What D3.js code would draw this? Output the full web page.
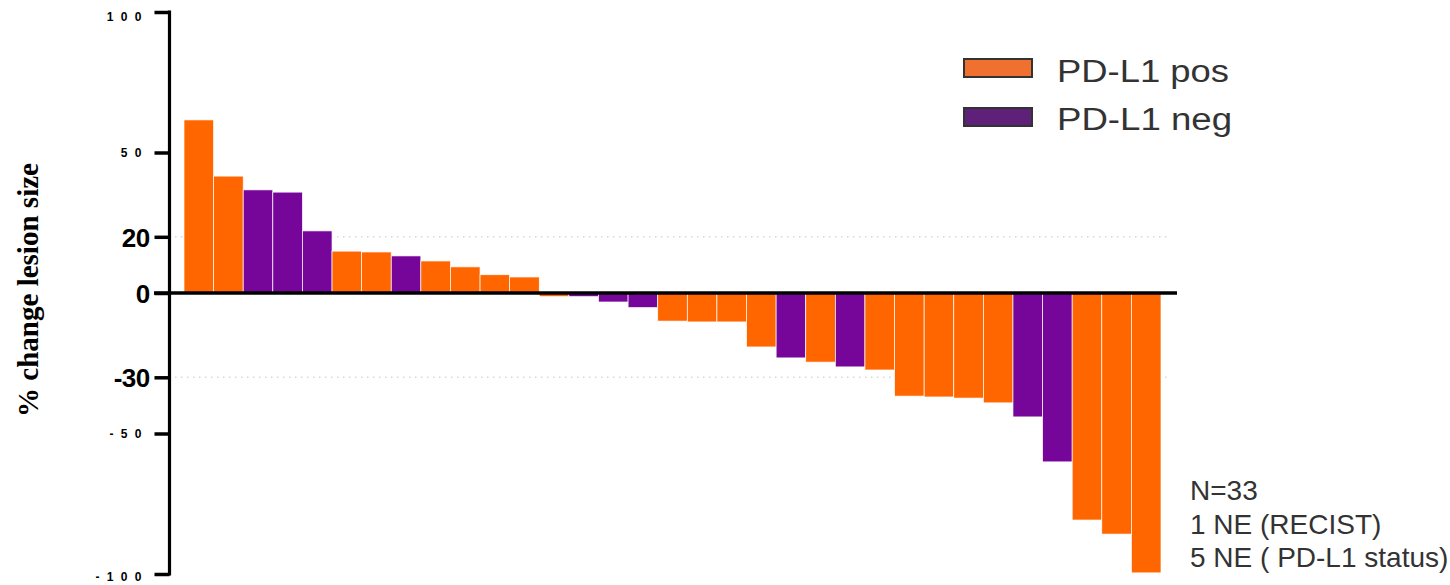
<!DOCTYPE html>
<html><head><meta charset="utf-8">
<script src="https://cdn.jsdelivr.net/npm/d3@7"></script>
<style>body{margin:0;background:#fff}svg{display:block}</style>
</head><body>
<svg id="chart" width="1450" height="585"></svg>
<script>
// ---- data ----
const patients = d3.range(1, 34);
const changes = [61.6, 41.6, 36.7, 35.9, 22.1, 14.9, 14.6, 13.2, 11.4, 9.3, 6.5, 5.7,
  -1.3, -1.3, -3.2, -5.2, -10.0, -10.3, -10.3, -19.2, -23.1, -24.6, -26.3, -27.4,
  -36.7, -37.0, -37.4, -39.1, -44.1, -60.1, -80.8, -85.8, -99.6];
const status = ["pos","pos","neg","neg","neg","pos","pos","neg","pos","pos","pos","pos",
  "pos","neg","neg","neg","pos","pos","pos","pos","neg","pos","neg","pos",
  "pos","pos","pos","pos","neg","neg","pos","pos","pos"];
const tickValues = [100, 50, 20, 0, -30, -50, -100];
const tickLabels = ["1 0 0", "5 0", "20", "0", "-30", "- 5 0", "- 1 0 0"];
const bigTicks = [20, 0, -30];
const gridValues = [20, -30];
const legendKeys = ["pos", "neg"];
const legendLabels = ["PD-L1 pos", "PD-L1 neg"];
const noteLines = ["N=33", "1 NE (RECIST)", "5 NE ( PD-L1 status)"];

const barColor = {pos: "#FF6600", neg: "#76069A"};
const legendColor = {pos: "#F07030", neg: "#5E2078"};

const svg = d3.select("#chart");
const y = d3.scaleLinear().domain([-100, 100]).range([574, 12]);
const x = d3.scaleBand().domain(patients).range([184, 1161]).padding(0);

// grid
svg.append("g").selectAll("line").data(gridValues).join("line")
  .attr("x1", 175).attr("x2", 1170)
  .attr("y1", d => y(d)).attr("y2", d => y(d))
  .attr("stroke", "#d8d8d8").attr("stroke-width", 1.5)
  .attr("stroke-dasharray", "1.5,4.5");

// bars
svg.append("g").selectAll("rect").data(patients).join("rect")
  .attr("x", d => x(d))
  .attr("width", x.bandwidth())
  .attr("y", (d, i) => y(Math.max(0, changes[i])))
  .attr("height", (d, i) => Math.abs(y(changes[i]) - y(0)))
  .attr("fill", (d, i) => barColor[status[i]])
  .attr("stroke", "#fff").attr("stroke-width", 0.7);

// y axis
const yAxis = d3.axisLeft(y).tickValues(tickValues)
  .tickFormat((d, i) => tickLabels[i]).tickSize(15).tickSizeOuter(0);
const ag = svg.append("g").attr("transform", "translate(169.5,0)").call(yAxis);
ag.select(".domain").attr("stroke", "#000").attr("stroke-width", 3.2)
  .attr("d", `M0,${y(100) - 1.5}V${y(-100) + 1.5}`);
ag.selectAll(".tick line").attr("stroke", "#000").attr("stroke-width", 3.5);
ag.selectAll(".tick text")
  .attr("fill", "#000")
  .style("font-family", "Arial, 'Liberation Sans', sans-serif")
  .style("font-weight", "bold")
  .each(function(d) {
    const t = d3.select(this);
    if (bigTicks.includes(d)) {
      t.style("font-size", "26px").attr("x", -20).style("letter-spacing", "-0.6px").attr("dy", "0.36em");
    } else {
      t.style("font-size", "12px").attr("x", -26).style("letter-spacing", "2px").attr("dy", "0.36em");
    }
  });
ag.selectAll(".tick").filter(d => d === 100).select("text").attr("dy", "0.7em");
ag.selectAll(".tick").filter(d => d === -100).select("text").attr("dy", "0.5em");

// zero line
svg.append("line").attr("x1", 154).attr("x2", 1177)
  .attr("y1", y(0)).attr("y2", y(0))
  .attr("stroke", "#000").attr("stroke-width", 3.5);

// y title
svg.append("text")
  .attr("transform", `translate(38,${(y(100) + y(-100)) / 2 - 3}) rotate(-90)`)
  .attr("text-anchor", "middle")
  .style("font-family", "'Liberation Serif', 'Times New Roman', serif")
  .style("font-weight", "bold").style("font-size", "29px")
  .attr("textLength", 254).attr("lengthAdjust", "spacingAndGlyphs")
  .text("% change lesion size");

// legend
const lg = svg.append("g");
legendKeys.forEach((k, i) => {
  lg.append("rect").attr("x", 964).attr("y", 59 + i * 49).attr("width", 68).attr("height", 18)
    .attr("fill", legendColor[k]).attr("stroke", "#333").attr("stroke-width", 2);
  lg.append("text").attr("x", 1057).attr("y", 82 + i * 48)
    .style("font-family", "Arial, 'Liberation Sans', sans-serif").style("font-size", "31px")
    .attr("fill", "#333")
    .attr("textLength", i === 0 ? 172 : 175).attr("lengthAdjust", "spacingAndGlyphs")
    .text(legendLabels[i]);
});

// notes
svg.append("g").selectAll("text").data(noteLines).join("text")
  .attr("x", 1190).attr("y", (d, i) => 500 + i * 33.5)
  .style("font-family", "Arial, 'Liberation Sans', sans-serif").style("font-size", "28px")
  .attr("fill", "#333")
  .text(d => d);
</script>
</body></html>
